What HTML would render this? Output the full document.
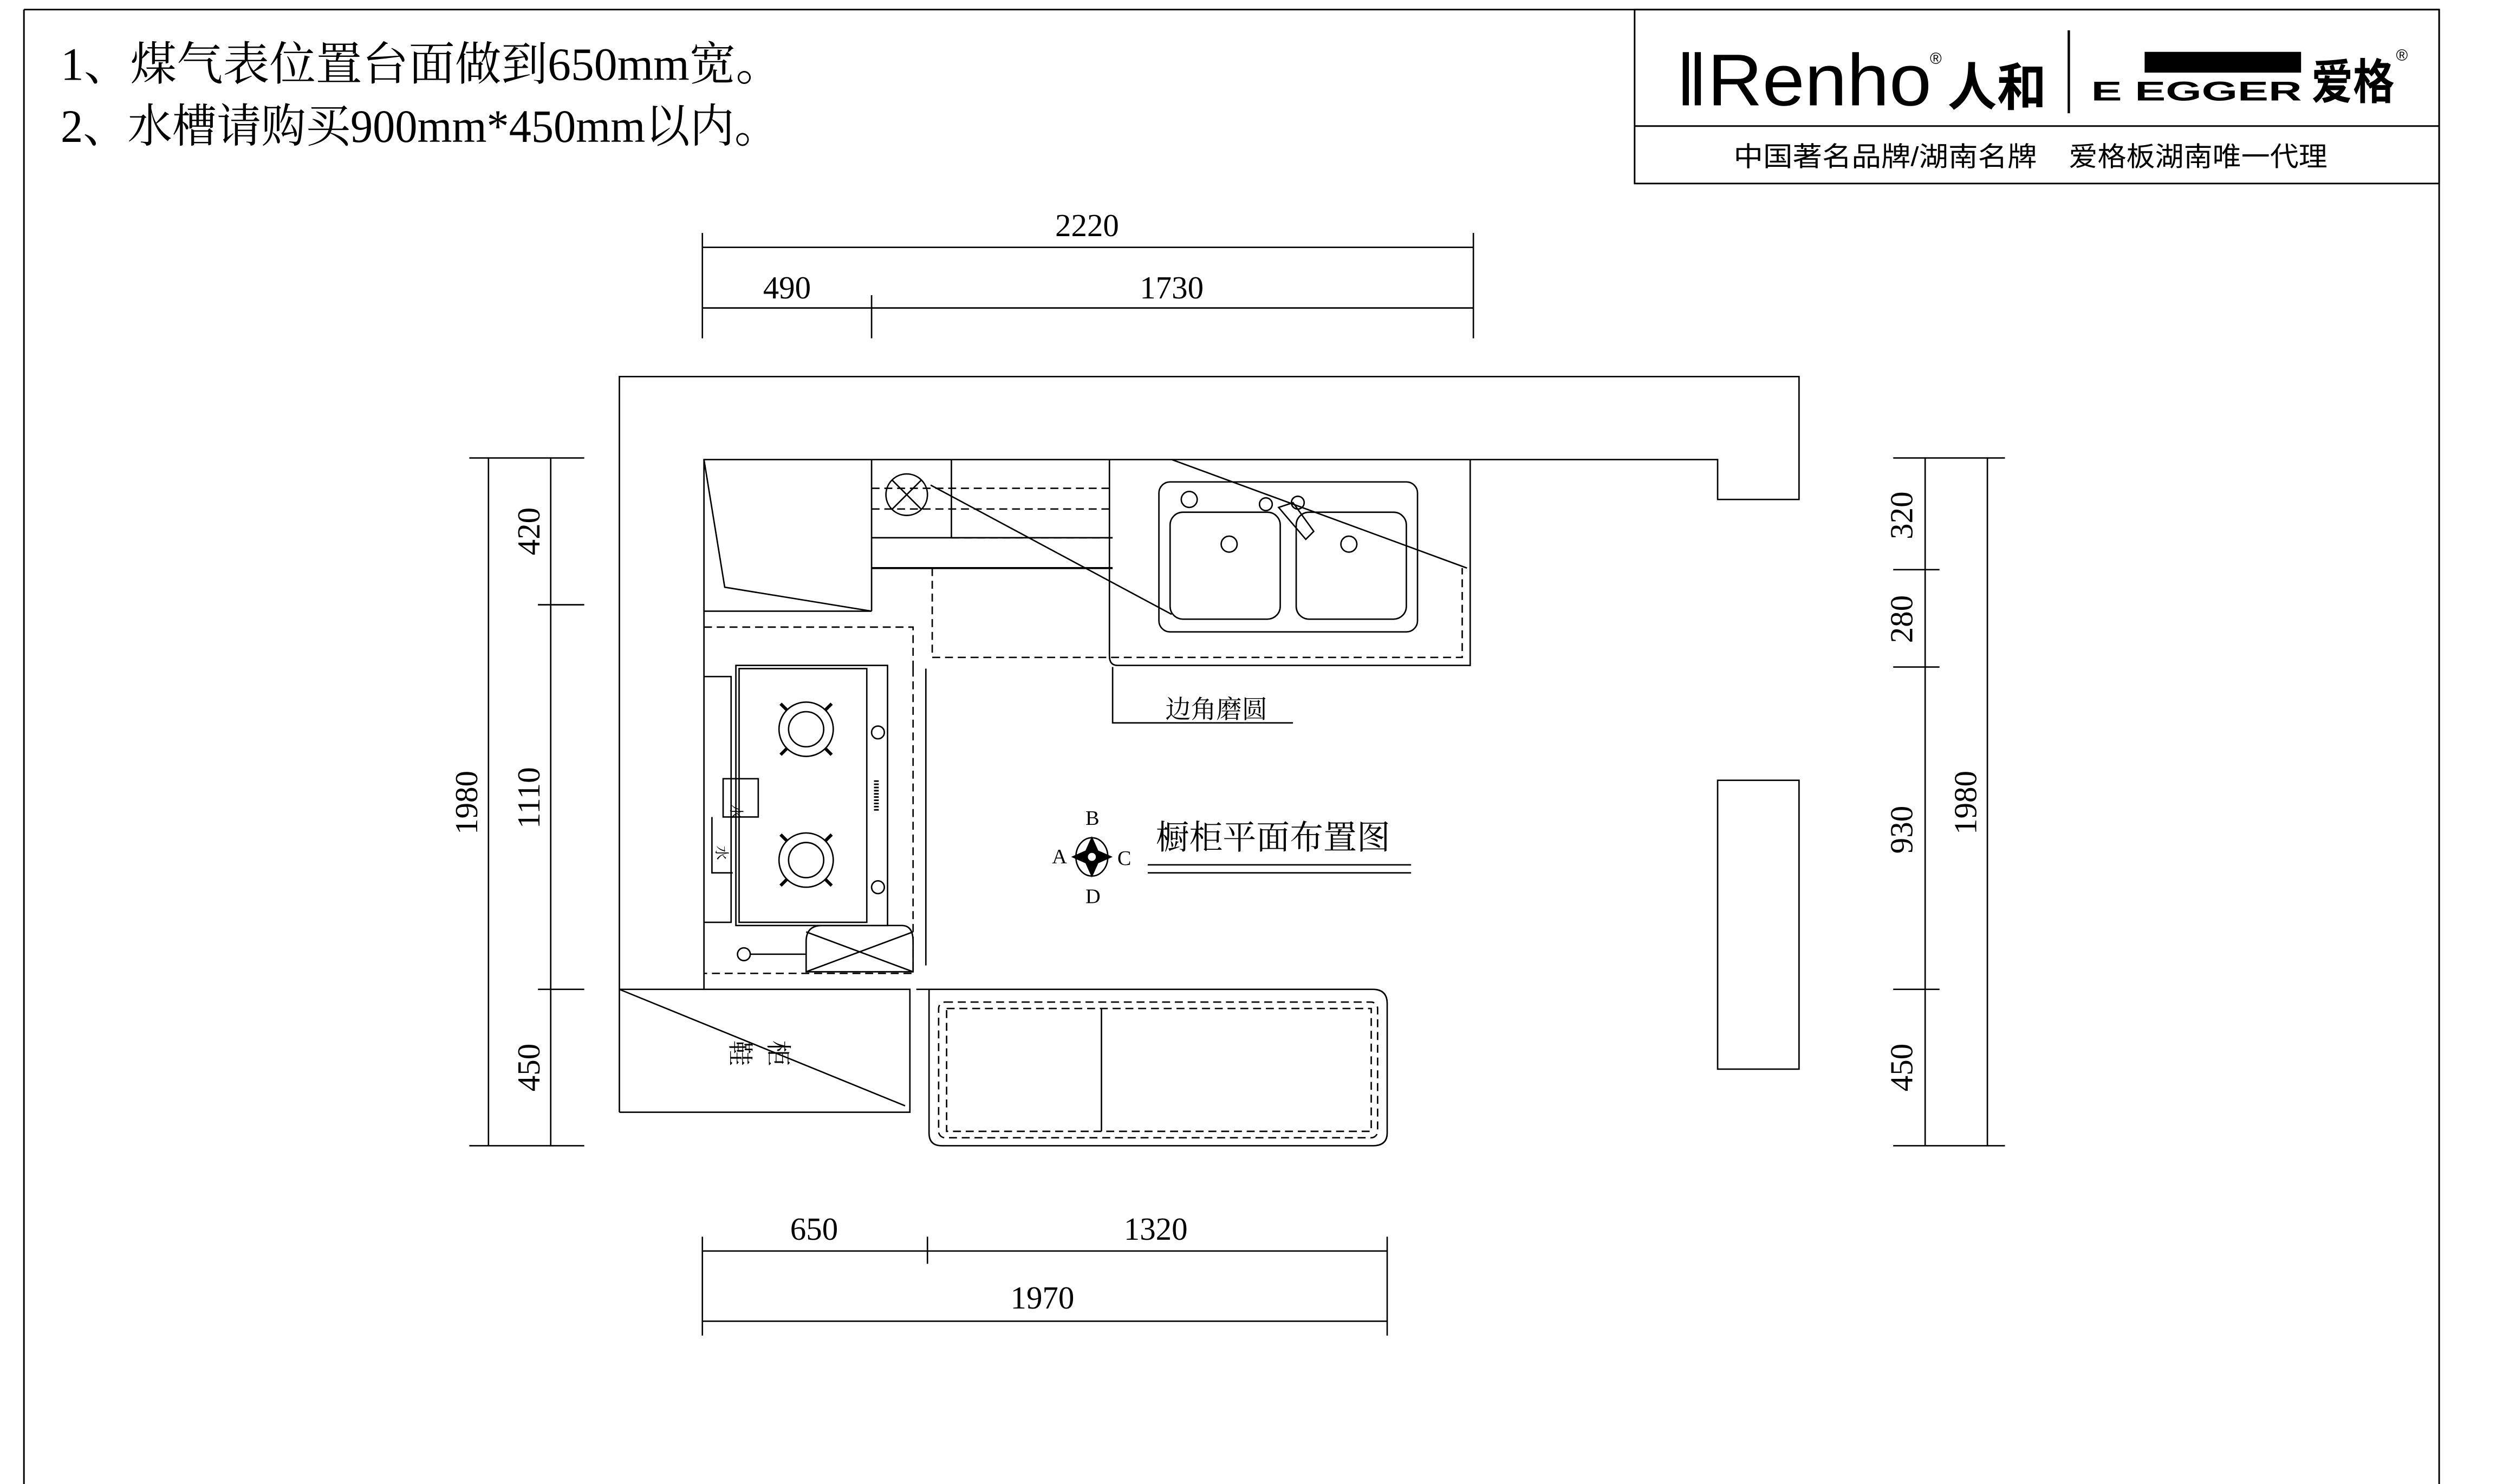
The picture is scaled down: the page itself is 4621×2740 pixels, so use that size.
<!DOCTYPE html>
<html><head><meta charset="utf-8"><style>
html,body{margin:0;padding:0;background:#fff}
svg{display:block}
text{font-family:"Liberation Serif","Noto Serif CJK SC",serif;fill:#000}
.s{font-family:"Liberation Sans","Noto Sans CJK SC",sans-serif}
</style></head><body>
<svg width="4621" height="2740" viewBox="0 0 1568 930" preserveAspectRatio="none" xmlns="http://www.w3.org/2000/svg">
<g fill="none" stroke="#000" stroke-width="1">
<line x1="15" y1="6" x2="1528" y2="6"/>
<line x1="15" y1="6" x2="15" y2="930"/>
<line x1="1528" y1="6" x2="1528" y2="930"/>
<rect x="1024" y="6" width="504" height="109"/>
<line x1="1024" y1="79" x2="1528" y2="79"/>
<line x1="1296" y1="19" x2="1296" y2="71" stroke-width="1.5"/>
<rect x="1344" y="33" width="97" height="12" fill="#000"/>
</g>
<text x="38" y="50" font-size="29" textLength="452" lengthAdjust="spacingAndGlyphs">1、煤气表位置台面做到650mm宽。</text>
<text x="38" y="89" font-size="29" textLength="450" lengthAdjust="spacingAndGlyphs">2、水槽请购买900mm*450mm以内。</text>
<text class="s" x="1050" y="66" font-size="46" textLength="160" lengthAdjust="spacingAndGlyphs">‖Renho</text>
<text class="s" x="1209" y="40" font-size="10">®</text>
<text class="s" x="1220" y="66" font-size="32" font-weight="bold" textLength="62" lengthAdjust="spacingAndGlyphs">人和</text>
<text class="s" x="1310" y="63" font-size="17" font-weight="900" textLength="132" lengthAdjust="spacingAndGlyphs">E EGGER</text>
<text class="s" x="1448" y="62" font-size="30" font-weight="bold" textLength="52" lengthAdjust="spacingAndGlyphs">爱格</text>
<text class="s" x="1501" y="38" font-size="10">®</text>
<text class="s" x="1086" y="104" font-size="17" textLength="190" lengthAdjust="spacingAndGlyphs">中国著名品牌/湖南名牌</text>
<text class="s" x="1296" y="104" font-size="17" textLength="162" lengthAdjust="spacingAndGlyphs">爱格板湖南唯一代理</text>

<g fill="none" stroke="#000" stroke-width="0.9">
<line x1="440" y1="155" x2="923" y2="155"/><line x1="440" y1="193" x2="923" y2="193"/>
<line x1="440" y1="146" x2="440" y2="212"/><line x1="546" y1="185" x2="546" y2="212"/><line x1="923" y1="146" x2="923" y2="212"/>
<line x1="440" y1="784" x2="869" y2="784"/><line x1="440" y1="828" x2="869" y2="828"/>
<line x1="440" y1="775" x2="440" y2="837"/><line x1="581" y1="775" x2="581" y2="792"/><line x1="869" y1="775" x2="869" y2="837"/>
<line x1="306" y1="287" x2="306" y2="718"/><line x1="345" y1="287" x2="345" y2="718"/>
<line x1="294" y1="287" x2="366" y2="287"/><line x1="337" y1="379" x2="366" y2="379"/><line x1="337" y1="620" x2="366" y2="620"/><line x1="294" y1="718" x2="366" y2="718"/>
<line x1="1206" y1="287" x2="1206" y2="718"/><line x1="1245" y1="287" x2="1245" y2="718"/>
<line x1="1186" y1="287" x2="1256" y2="287"/><line x1="1186" y1="357" x2="1215" y2="357"/><line x1="1186" y1="418" x2="1215" y2="418"/><line x1="1186" y1="620" x2="1215" y2="620"/><line x1="1186" y1="718" x2="1256" y2="718"/>
<polyline points="388,697 388,236 1127,236 1127,313 1076,313 1076,288 441,288 441,620"/>
<rect x="1076" y="489" width="51" height="181"/>
<polyline points="441,288 454,368 546,383"/>
<line x1="441" y1="383" x2="546" y2="383"/>
<line x1="546" y1="288" x2="546" y2="383"/>
<circle cx="568" cy="310" r="13"/><line x1="559" y1="301" x2="577" y2="319"/><line x1="577" y1="301" x2="559" y2="319"/>
<line x1="546" y1="337" x2="697" y2="337"/><line x1="546" y1="356" x2="697" y2="356" stroke-width="1.3"/>
<line x1="596" y1="288" x2="596" y2="337"/>
<line x1="583" y1="304" x2="734" y2="385"/>
<line x1="734" y1="288" x2="919" y2="356"/>
<path d="M695,288 V411 Q695,417 700,417 H921 V288"/>
<rect x="726" y="302" width="162" height="94" rx="7"/>
<rect x="733" y="321" width="69" height="67" rx="8"/><rect x="812" y="321" width="69" height="67" rx="8"/>
<circle cx="770" cy="341" r="5"/><circle cx="845" cy="341" r="5"/>
<circle cx="745" cy="313" r="5"/><circle cx="793" cy="316" r="4"/><circle cx="813" cy="315" r="4"/>
<path d="M801,318 L818,338 L823,333 L810,315Z"/>
<g stroke-dasharray="5,3">
<path d="M441,393 H572 V419"/>
<path d="M584,356 V412 H916 V356"/>
<path d="M546,306 H695 M546,319 H695 M596,337 H697"/>
<path d="M572,419 V610 H441"/>
<rect x="588" y="628" width="275" height="85" rx="4"/>
<rect x="593" y="632" width="266" height="77"/>
</g>
<polyline points="697,418 697,453 810,453"/>
<rect x="461" y="417" width="95" height="163"/>
<rect x="463" y="419" width="80" height="159"/>
<line x1="580" y1="419" x2="580" y2="605"/>
<circle cx="505" cy="457" r="17"/><circle cx="505" cy="457" r="11"/>
<circle cx="505" cy="539" r="17"/><circle cx="505" cy="539" r="11"/>
<path d="M493,445 l-4,-4 M517,445 l4,-4 M493,469 l-4,4 M517,469 l4,4 M493,527 l-4,-4 M517,527 l4,-4 M493,551 l-4,4 M517,551 l4,4" stroke-width="2"/>
<path d="M441,424 H458 V578 H441 M453,488 H475 V512 H453Z"/>
<path d="M446,512 V547 H459"/>
<circle cx="550" cy="459" r="4"/><circle cx="550" cy="556" r="4"/>
<line x1="549" y1="489" x2="549" y2="509" stroke-width="3" stroke-dasharray="1,1"/>
<path d="M505,609 V590 Q505,580 515,580 H565 Q572,580 572,590 V609Z"/>
<line x1="505" y1="609" x2="572" y2="584"/><line x1="505" y1="584" x2="572" y2="609"/>
<circle cx="466" cy="598" r="4"/><line x1="470" y1="598" x2="505" y2="598"/>
<path d="M388,620 H570 V697 H388"/>
<line x1="388" y1="620" x2="567" y2="693"/>
<path d="M574,620 H860 Q869,620 869,629 V710 Q869,718 860,718 H590 Q582,718 582,710 V620"/>
<line x1="690" y1="632" x2="690" y2="709"/>
<line x1="719" y1="542" x2="884" y2="542"/><line x1="719" y1="547" x2="884" y2="547"/>
<ellipse cx="684" cy="537" rx="10" ry="12"/>
</g>
<path d="M684,524 L688,533 L697,537 L688,541 L684,550 L680,541 L671,537 L680,533Z" fill="#000"/>
<circle cx="684" cy="537" r="3" fill="#fff" stroke="#000"/>
<g font-size="20">
<text x="681" y="148" text-anchor="middle">2220</text>
<text x="493" y="187" text-anchor="middle">490</text>
<text x="734" y="187" text-anchor="middle">1730</text>
<text x="510" y="777" text-anchor="middle">650</text>
<text x="724" y="777" text-anchor="middle">1320</text>
<text x="653" y="820" text-anchor="middle">1970</text>
<text transform="translate(299,503) rotate(-90)" text-anchor="middle">1980</text>
<text transform="translate(338,333) rotate(-90)" text-anchor="middle">420</text>
<text transform="translate(338,500) rotate(-90)" text-anchor="middle">1110</text>
<text transform="translate(338,669) rotate(-90)" text-anchor="middle">450</text>
<text transform="translate(1198,323) rotate(-90)" text-anchor="middle">320</text>
<text transform="translate(1198,388) rotate(-90)" text-anchor="middle">280</text>
<text transform="translate(1198,520) rotate(-90)" text-anchor="middle">930</text>
<text transform="translate(1198,669) rotate(-90)" text-anchor="middle">450</text>
<text transform="translate(1238,503) rotate(-90)" text-anchor="middle">1980</text>
</g>
<text x="730" y="450" font-size="16">边角磨圆</text>
<text x="724" y="532" font-size="21">橱柜平面布置图</text>
<g font-size="13">
<text x="680" y="517">B</text><text x="659" y="541">A</text><text x="700" y="542">C</text><text x="680" y="566">D</text>
</g>
<text transform="translate(458,652) rotate(90)" font-size="16">鞋</text>
<text transform="translate(482,652) rotate(90)" font-size="16">柜</text>
<text transform="translate(458,504) rotate(90)" font-size="9">水</text>
<text transform="translate(449,530) rotate(90)" font-size="9">水</text>
</svg>
</body></html>
